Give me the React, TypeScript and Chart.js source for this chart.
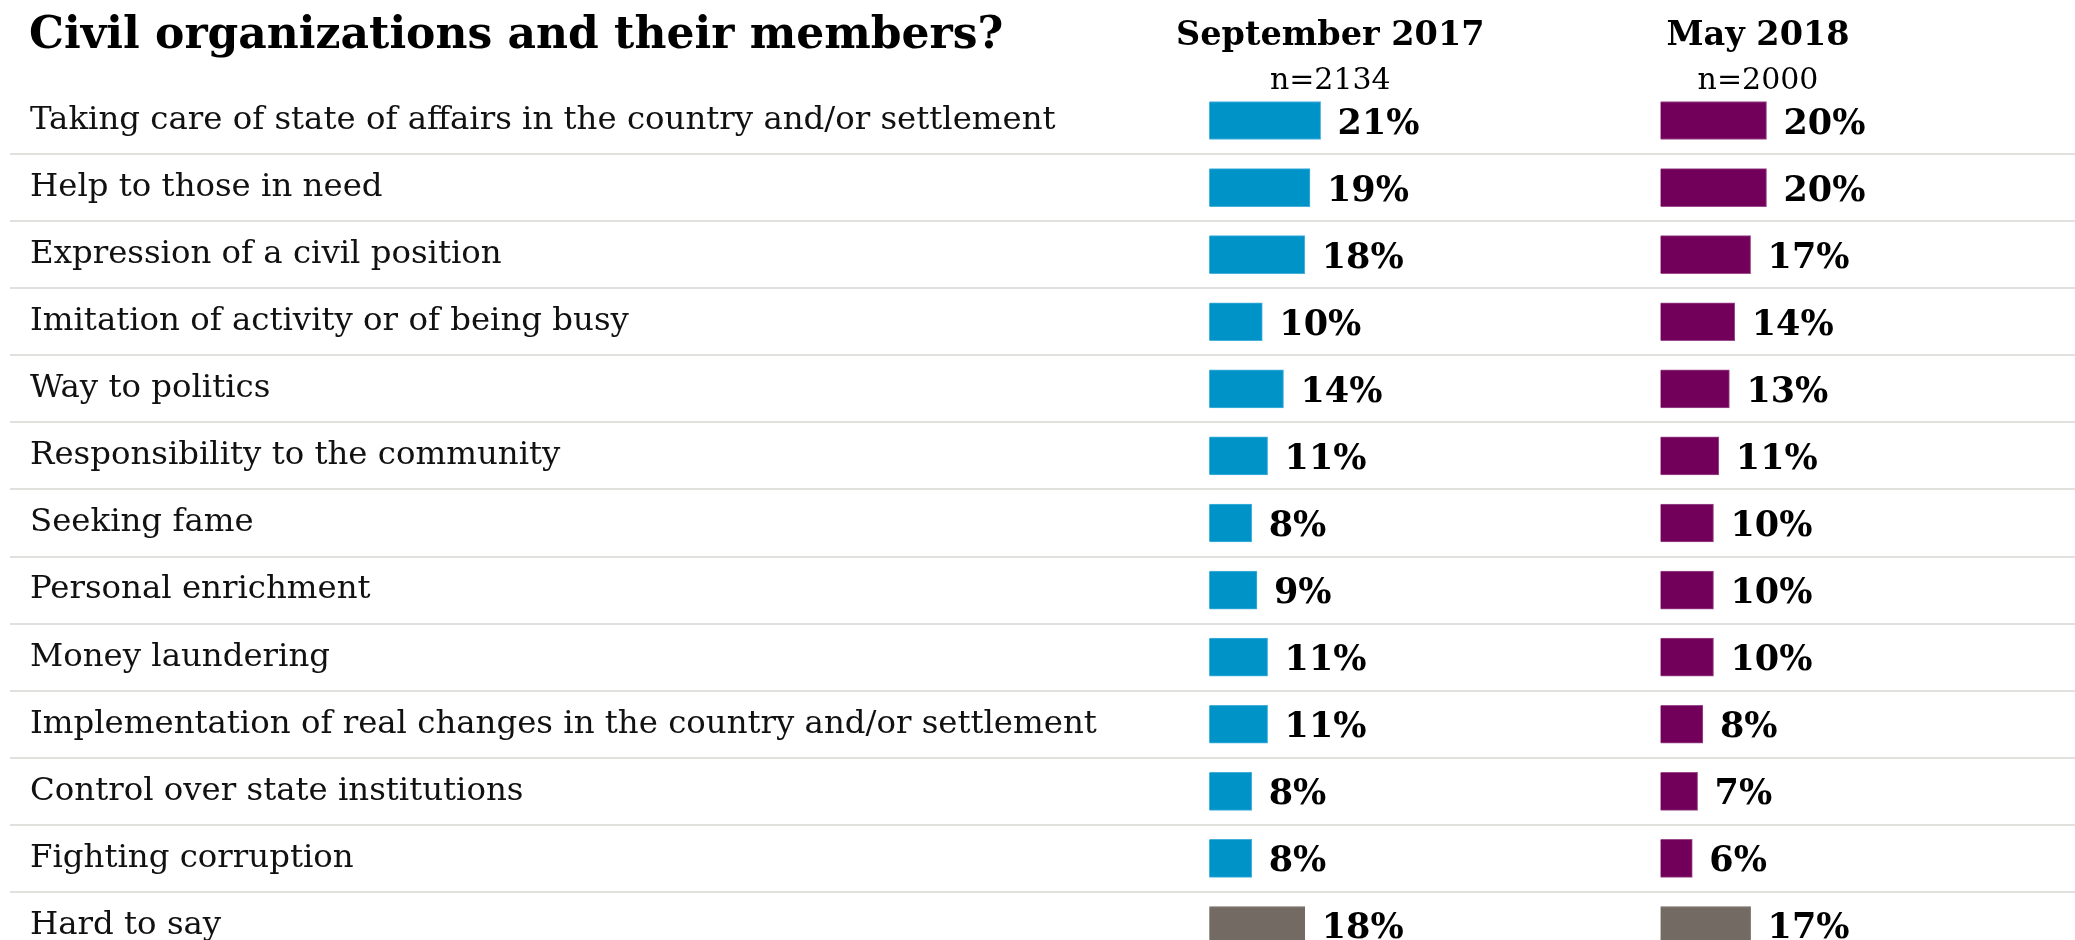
import React, { useEffect, useRef } from "react";
import { Chart, registerables } from "chart.js";

Chart.register(...registerables);

// ---- data ----
const TITLE = "Civil organizations and their members?";

const categories = [
  "Taking care of state of affairs in the country and/or settlement",
  "Help to those in need",
  "Expression of a civil position",
  "Imitation of activity or of being busy",
  "Way to politics",
  "Responsibility to the community",
  "Seeking fame",
  "Personal enrichment",
  "Money laundering",
  "Implementation of real changes in the country and/or settlement",
  "Control over state institutions",
  "Fighting corruption",
  "Hard to say",
];

const sep2017 = [21, 19, 18, 10, 14, 11, 8, 9, 11, 11, 8, 8, 18];
const may2018 = [20, 20, 17, 14, 13, 11, 10, 10, 10, 8, 7, 6, 17];

const seriesLabels = ["September 2017", "May 2018"];
const sampleSizes = ["n=2134", "n=2000"];
const neutralCategory = "Hard to say";

// ---- look & layout ----
const W = 2075;
const H = 940; // visible height
const ROWS_TOP = 87;
const ROWS_BOTTOM = 959; // last row runs past the visible edge
const BOTTOM_PAD = 40; // larger than the y axis' own label padding
const CANVAS_H = ROWS_BOTTOM + BOTTOM_PAD;

const SERIF = "'DejaVu Serif', serif";
const BLUE = "#0093c8";
const BLUE_EDGE = "#45b0dc";
const PURPLE = "#72005a";
const PURPLE_EDGE = "#9c4a8c";
const GRAY = "#736a64";

const PLOT_LEFT = 10;
const PX_PER_PCT = 5.3;
const SEP_ZERO_PX = 1209.3;
const MAY_ZERO_PX = 1660.5;
const HEADER_OFFSET = [121, 97.5];

const axisRange = (zeroPx: number) => ({
  min: -(zeroPx - PLOT_LEFT) / PX_PER_PCT,
  max: (W - zeroPx) / PX_PER_PCT,
});

const colorsFor = (main: string) =>
  categories.map((c) => (c === neutralCategory ? GRAY : main));

const valueLabels = {
  id: "valueLabels",
  afterDatasetsDraw(chart: any) {
    const ctx = chart.ctx;
    ctx.save();
    ctx.font = `bold 35px ${SERIF}`;
    ctx.fillStyle = "#000";
    ctx.textAlign = "left";
    ctx.textBaseline = "alphabetic";
    chart.data.datasets.forEach((ds: any, di: number) => {
      const meta = chart.getDatasetMeta(di);
      meta.data.forEach((bar: any, i: number) => {
        ctx.fillText(`${ds.data[i]}%`, bar.x + 17, bar.y + 13);
      });
    });
    ctx.restore();
  },
};

const headings = {
  id: "headings",
  afterDraw(chart: any) {
    const ctx = chart.ctx;
    ctx.save();
    ctx.fillStyle = "#000";
    ctx.textBaseline = "alphabetic";
    ctx.textAlign = "left";
    ctx.font = `bold 44px ${SERIF}`;
    ctx.fillText(TITLE, 29, 48);

    const scales = [chart.scales.xSep, chart.scales.xMay];
    scales.forEach((s: any, i: number) => {
      const cx = s.getPixelForValue(0) + HEADER_OFFSET[i];
      ctx.textAlign = "center";
      ctx.font = `bold 33.5px ${SERIF}`;
      ctx.fillText(seriesLabels[i], cx, 45);
      ctx.font = `30px ${SERIF}`;
      ctx.fillText(sampleSizes[i], cx, 89);
    });
    ctx.restore();
  },
};

export default function App() {
  const canvasRef = useRef<HTMLCanvasElement | null>(null);

  useEffect(() => {
    document.body.style.margin = "0";
    document.body.style.overflow = "hidden";
    const canvas = canvasRef.current;
    if (!canvas) return;

    const chart = new Chart(canvas, {
      type: "bar",
      data: {
        labels: categories,
        datasets: [
          {
            label: seriesLabels[0],
            data: sep2017,
            xAxisID: "xSep",
            backgroundColor: colorsFor(BLUE),
            borderColor: colorsFor(BLUE_EDGE),
            borderWidth: 1,
            barThickness: 38,
            grouped: false,
          },
          {
            label: seriesLabels[1],
            data: may2018,
            xAxisID: "xMay",
            backgroundColor: colorsFor(PURPLE),
            borderColor: colorsFor(PURPLE_EDGE),
            borderWidth: 1,
            barThickness: 38,
            grouped: false,
          },
        ],
      } as any,
      options: {
        indexAxis: "y",
        responsive: false,
        maintainAspectRatio: false,
        animation: false,
        layout: {
          padding: { top: ROWS_TOP, bottom: BOTTOM_PAD, left: PLOT_LEFT, right: 0 },
        },
        plugins: {
          legend: { display: false },
          tooltip: { enabled: false },
          title: { display: false },
        },
        scales: {
          y: {
            type: "category",
            position: "left",
            offset: true,
            grid: {
              offset: true,
              drawTicks: false,
              lineWidth: 2,
              color: (c: any) => (c.index === 0 ? "rgba(0,0,0,0)" : "#e2e0dd"),
            },
            border: { display: false },
            ticks: {
              mirror: true,
              padding: 20,
              autoSkip: false,
              color: "#111",
              font: { family: SERIF, size: 32.4 },
            },
            afterFit: (s: any) => {
              s.width = 0;
            },
          },
          xSep: { type: "linear", position: "bottom", display: false, ...axisRange(SEP_ZERO_PX) },
          xMay: { type: "linear", position: "bottom", display: false, ...axisRange(MAY_ZERO_PX) },
        },
      } as any,
      plugins: [valueLabels, headings],
    });

    return () => chart.destroy();
  }, []);

  return (
    <div style={{ position: "relative", width: W, height: H, overflow: "hidden", background: "#fff" }}>
      <canvas ref={canvasRef} width={W} height={CANVAS_H} style={{ display: "block" }} />
    </div>
  );
}
